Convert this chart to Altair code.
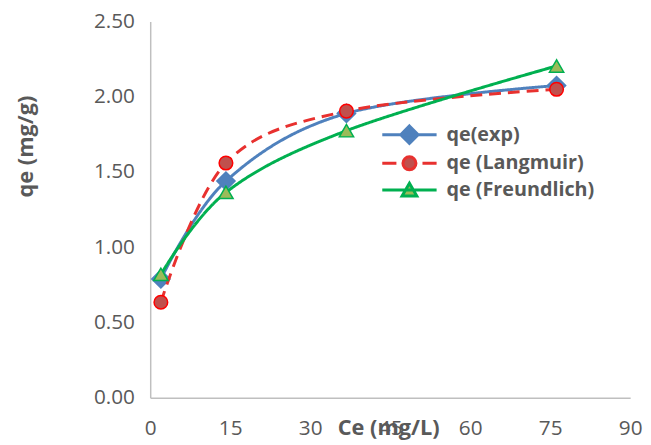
import altair as alt
import pandas as pd

# ---- data ----
ce = [2.0, 14.2, 36.8, 76.2]
qe_exp = [0.79, 1.44, 1.89, 2.075]
qe_langmuir = [0.635, 1.56, 1.905, 2.05]
qe_freundlich = [0.82, 1.365, 1.775, 2.205]
series_names = ["qe(exp)", "qe (Langmuir)", "qe (Freundlich)"]

x_ticks = [0, 15, 30, 45, 60, 75, 90]
y_ticks = [0.0, 0.5, 1.0, 1.5, 2.0, 2.5]

rows = []
for name, vals in zip(series_names, [qe_exp, qe_langmuir, qe_freundlich]):
    for i, (x, y) in enumerate(zip(ce, vals)):
        rows.append({"series": name, "ce": x, "qe": y, "order": i})
df = pd.DataFrame(rows)

# ---- styles ----
line_colors = ["#4F81BD", "#E8312F", "#00B050"]
marker_strokes = ["#4F81BD", "#FF0000", "#00B050"]
fill_colors = ["#4F81BD", "#C0504D", "#9BBB59"]
dashes = [[1, 0], [12, 7], [1, 0]]
shapes = ["diamond", "circle", "triangle-up"]
sizes = [340, 190, 210]
text_col = "#595959"
FONT = "Open Sans"

# legend symbols: a line segment with the marker in the middle (unit box scaled)
legend_paths = [
    "M -2.5 0 L 2.5 0 M 0 -0.8 L 0.8 0 L 0 0.8 L -0.8 0 Z",
    "M -2.5 0 L -1.2 0 M 1.2 0 L 2.5 0 M 0.6 0 A 0.6 0.6 0 1 1 -0.6 0 A 0.6 0.6 0 1 1 0.6 0 Z",
    "M -2.5 0 L 2.5 0 M 0 -0.62 L 0.68 0.55 L -0.68 0.55 Z",
]

x_enc = alt.X(
    "ce:Q",
    scale=alt.Scale(domain=[0, 90], nice=False, zero=False),
    axis=alt.Axis(
        values=x_ticks, format="d", title="Ce (mg/L)", grid=False, ticks=False,
        domainColor="#BFBFBF", domainWidth=1.5, labelFlush=False,
        labelFont=FONT, labelFontSize=21, labelColor=text_col,
        labelBaseline="alphabetic", labelPadding=37,
        titleFont=FONT, titleFontSize=22, titleFontWeight="bold", titleColor=text_col,
        titleX=241, titleY=37, titleBaseline="alphabetic", titleAlign="center",
        titleAnchor="start",
    ),
)
y_enc = alt.Y(
    "qe:Q",
    scale=alt.Scale(domain=[0, 2.5], nice=False),
    axis=alt.Axis(
        values=y_ticks, format=".2f", title="qe (mg/g)", grid=False, ticks=False,
        domainColor="#BFBFBF", domainWidth=1.5, labelFlush=False,
        labelFont=FONT, labelFontSize=21, labelColor=text_col, labelPadding=16,
        titleFont=FONT, titleFontSize=22, titleFontWeight="bold", titleColor=text_col,
        titleAngle=270, titleX=-126, titleY=126, titleBaseline="middle", titleAlign="center",
        titleAnchor="start",
    ),
)

base = alt.Chart(df)
layers = []
for i, name in enumerate(series_names):
    sub = base.transform_filter(alt.datum.series == name)
    enc_x = x_enc if i == 0 else alt.X("ce:Q")
    enc_y = y_enc if i == 0 else alt.Y("qe:Q")
    layers.append(
        sub.mark_line(
            strokeWidth=3, interpolate="cardinal", color=line_colors[i],
            strokeDash=dashes[i],
        ).encode(x=enc_x, y=enc_y, order="order:Q")
    )
    layers.append(
        sub.mark_point(
            filled=True, shape=shapes[i], size=sizes[i], fill=fill_colors[i],
            stroke=marker_strokes[i], strokeWidth=1.5, opacity=1,
        ).encode(x="ce:Q", y="qe:Q")
    )

legend_layer = base.transform_filter("false").mark_point(
    filled=True, strokeWidth=3, opacity=1, size=484
).encode(
    x="ce:Q",
    y="qe:Q",
    shape=alt.Shape(
        "series:N",
        scale=alt.Scale(domain=series_names, range=legend_paths),
        legend=alt.Legend(
            title=None, orient="none", legendX=250, legendY=102,
            padding=0, symbolSize=484, symbolStrokeWidth=3, symbolOpacity=1,
            labelFont=FONT, labelFontSize=20, labelFontWeight="bold", labelColor=text_col,
            labelOffset=25, rowPadding=0, symbolOffset=0,
        ),
    ),
    fill=alt.Fill("series:N", scale=alt.Scale(domain=series_names, range=fill_colors)),
    stroke=alt.Stroke("series:N", scale=alt.Scale(domain=series_names, range=line_colors)),
)
layers.append(legend_layer)

chart = (
    alt.layer(*layers)
    .properties(
        width=486,
        height=381,
        padding={"left": 144, "top": 11, "right": 13, "bottom": 43},
        autosize=alt.AutoSizeParams(type="none"),
        background="white",
    )
    .configure_view(stroke=None)
)

chart.save("out.html", embed_options={"renderer": "svg", "actions": False})
